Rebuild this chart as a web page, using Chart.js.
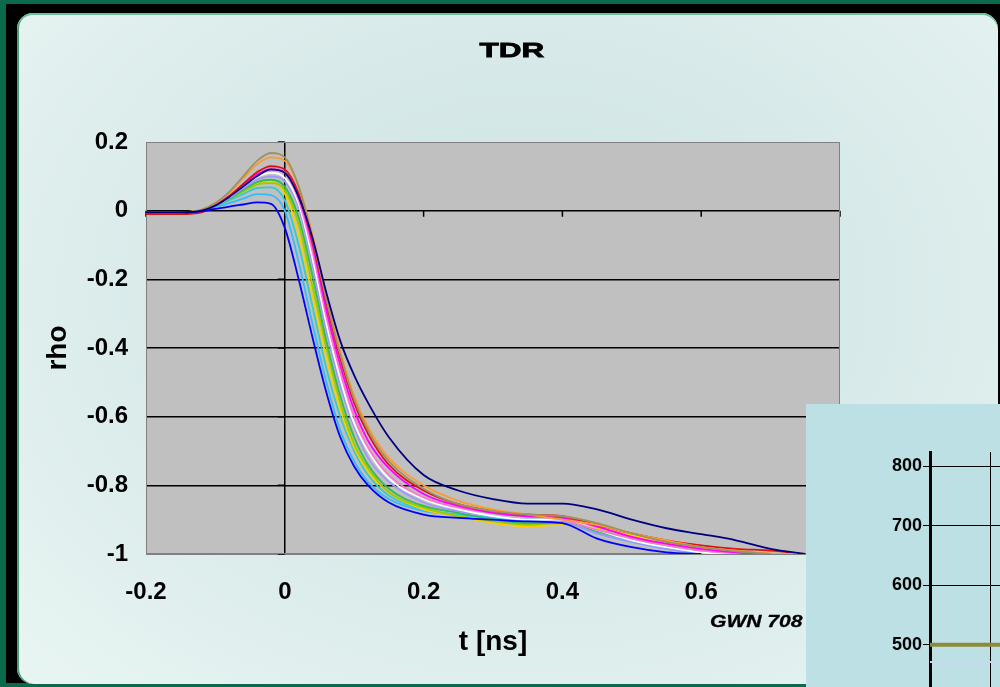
<!DOCTYPE html>
<html>
<head>
<meta charset="utf-8">
<script src="https://cdn.jsdelivr.net/npm/chart.js@4.4.1/dist/chart.umd.min.js"></script>
<style>
  html, body { margin: 0; padding: 0; }
  body { width: 1000px; height: 687px; position: relative; overflow: hidden; background: #0a6b4c; font-family: 'Liberation Sans', Arial, sans-serif; }
  #frame { position: absolute; left: 6px; top: 4px; width: 994px; height: 679px; background: #000; }
  #panel { position: absolute; left: 17px; top: 13px; width: 981px; height: 671px; border-radius: 16px;
           background: radial-gradient(ellipse at 52% 42%, #cfe3e3 0%, #d7e9e9 45%, #e4f2f0 85%, #e8f5f3 100%);
           box-shadow: inset 0 2px 0 #6cbf98, inset 2px 0 0 #4d9e7c; }
  #main { position: absolute; left: 0; top: 0; }
  #title { position: absolute; left: 512px; top: 39px; font-size: 21px; line-height: 21px; font-weight: bold;
           -webkit-text-stroke: 0.8px #000;
           transform: translateX(-50%) scaleX(1.5); color: #000; }
  #note { position: absolute; left: 710px; top: 613px; font-size: 17px; line-height: 17px; font-weight: bold; font-style: italic;
          -webkit-text-stroke: 0.3px #000;
          transform-origin: left top; transform: scaleX(1.24); color: #000; white-space: nowrap; }
  #inset { position: absolute; left: 806px; top: 404px; width: 194px; height: 283px; background: #bce0e3; }
  #ins { position: absolute; left: 0; top: 0; }
</style>
</head>
<body>
<div id="frame"></div>
<div id="panel"></div>
<canvas id="main" width="1000" height="687"></canvas>
<div id="title">TDR</div>
<div id="note">GWN 708</div>
<div id="inset"><canvas id="ins" width="194" height="283"></canvas></div>
<script>
// time axis [ns]
const t = [-0.2, -0.15, -0.12, -0.1, -0.08, -0.06, -0.04, -0.02, 0, 0.02, 0.04, 0.06, 0.08, 0.1,
           0.12, 0.15, 0.2, 0.25, 0.3, 0.35, 0.4, 0.45, 0.5, 0.55, 0.6, 0.65, 0.7, 0.75];

// rho traces
const blue      = [-0.005,-0.005,-0.002,0.005,0.012,0.018,0.024,0.02,-0.05,-0.2,-0.37,-0.53,-0.66,-0.745,-0.8,-0.85,-0.885,-0.895,-0.9,-0.905,-0.91,-0.955,-0.98,-0.995,-1.0,null,null,null];
const skyblue   = [-0.005,-0.005,-0.001,0.01,0.022,0.035,0.048,0.045,0.0,-0.15,-0.33,-0.5,-0.64,-0.73,-0.79,-0.84,-0.875,-0.885,-0.895,-0.9,-0.905,-0.94,-0.965,-0.985,-0.998,-1.0,null,null];
const turquoise = [-0.005,-0.005,0.0,0.013,0.03,0.048,0.066,0.068,0.03,-0.1,-0.28,-0.46,-0.6,-0.7,-0.77,-0.83,-0.87,-0.885,-0.895,-0.9,-0.9,-0.93,-0.955,-0.975,-0.99,-1.0,null,null];
const yellow    = [-0.005,-0.005,0.002,0.016,0.036,0.058,0.078,0.084,0.05,-0.07,-0.25,-0.43,-0.58,-0.69,-0.76,-0.82,-0.87,-0.89,-0.91,-0.92,-0.915,-0.925,-0.945,-0.97,-0.985,-0.997,-1.0,null];
const ltgreen   = [-0.005,-0.005,0.001,0.015,0.034,0.056,0.076,0.08,0.06,-0.04,-0.22,-0.4,-0.56,-0.68,-0.75,-0.82,-0.865,-0.89,-0.905,-0.915,-0.91,-0.93,-0.955,-0.975,-0.99,-1.0,null,null];
const green     = [-0.005,-0.005,0.0,0.014,0.035,0.06,0.083,0.09,0.07,-0.02,-0.19,-0.38,-0.54,-0.66,-0.74,-0.81,-0.86,-0.88,-0.9,-0.91,-0.91,-0.935,-0.96,-0.98,-0.993,-1.0,null,null];
const lavender  = [-0.005,-0.005,0.0,0.014,0.037,0.065,0.09,0.1,0.085,0.01,-0.16,-0.35,-0.51,-0.63,-0.72,-0.79,-0.85,-0.875,-0.89,-0.9,-0.905,-0.94,-0.965,-0.985,-0.997,-1.0,null,null];
const white     = [-0.005,-0.005,0.0,0.015,0.04,0.07,0.098,0.11,0.095,0.02,-0.14,-0.33,-0.49,-0.62,-0.7,-0.78,-0.84,-0.87,-0.89,-0.9,-0.9,-0.93,-0.96,-0.98,-0.995,-1.0,null,null];
const pink      = [-0.005,-0.005,0.0,0.017,0.044,0.078,0.11,0.126,0.112,0.03,-0.12,-0.31,-0.47,-0.6,-0.69,-0.77,-0.835,-0.865,-0.88,-0.89,-0.9,-0.93,-0.955,-0.975,-0.99,-0.998,-1.0,null];
const magenta   = [-0.005,-0.005,0.0,0.016,0.042,0.075,0.105,0.12,0.11,0.04,-0.1,-0.29,-0.45,-0.58,-0.67,-0.75,-0.825,-0.86,-0.88,-0.89,-0.895,-0.92,-0.95,-0.97,-0.985,-0.995,-1.0,null];
const red       = [-0.01,-0.01,-0.005,0.015,0.042,0.078,0.112,0.13,0.12,0.05,-0.09,-0.27,-0.43,-0.56,-0.65,-0.74,-0.815,-0.855,-0.875,-0.885,-0.89,-0.915,-0.94,-0.96,-0.975,-0.985,-0.99,-1.0];
const orange    = [-0.005,-0.005,0.003,0.022,0.052,0.094,0.135,0.155,0.145,0.07,-0.07,-0.25,-0.41,-0.54,-0.63,-0.72,-0.8,-0.845,-0.87,-0.885,-0.9,-0.915,-0.94,-0.96,-0.98,-0.99,-0.998,-1.0];
const olive     = [-0.005,-0.005,0.002,0.022,0.055,0.1,0.145,0.168,0.155,0.07,-0.08,-0.26,-0.42,-0.55,-0.64,-0.73,-0.81,-0.855,-0.875,-0.885,-0.89,-0.91,-0.94,-0.965,-0.98,-0.992,-1.0,null];
const navy      = [-0.005,-0.005,0.0,0.015,0.04,0.07,0.1,0.12,0.11,0.04,-0.08,-0.24,-0.38,-0.48,-0.56,-0.66,-0.77,-0.815,-0.84,-0.853,-0.853,-0.87,-0.9,-0.925,-0.942,-0.96,-0.985,-1.0];

const traces = [navy, blue, olive, orange, red, magenta, pink, white, lavender, green, ltgreen, yellow, turquoise, skyblue];
const traceColors = ['#000080', '#0000ff', '#9c9460', '#ff9933', '#e01010', '#ff00ff', '#ff77cc', '#ffffff',
                     '#9999ff', '#33bb55', '#99cc00', '#ffcc00', '#33cccc', '#33bbff'];

const xTicks = [-0.2, 0, 0.2, 0.4, 0.6, 0.8];
const yTicks = [-1, -0.8, -0.6, -0.4, -0.2, 0, 0.2];

// second (partly hidden) chart in the corner
const insetTicks = [500, 600, 700, 800];
const insetX = [0, 1.15];
const insetOlive = [500, 500];
const insetPale = [471, 471];

const FONT = "'Liberation Sans', Arial, sans-serif";

const plotBack = {
  id: 'plotBack',
  beforeDraw(chart) {
    const a = chart.chartArea, c = chart.ctx;
    c.save();
    c.fillStyle = '#c0c0c0';
    c.fillRect(a.left, a.top, a.right - a.left, a.bottom - a.top);
    c.restore();
  },
  beforeDatasetsDraw(chart) {
    const a = chart.chartArea, c = chart.ctx;
    const xs = chart.scales.x, ys = chart.scales.y;
    const x0 = xs.getPixelForValue(0), y0 = ys.getPixelForValue(0);
    c.save();
    c.strokeStyle = '#000';
    c.lineWidth = 1.5;
    c.beginPath();
    xTicks.forEach(v => { if (v !== 0) { const px = xs.getPixelForValue(v); c.moveTo(px, y0); c.lineTo(px, y0 + 6); } });
    yTicks.forEach(v => { const py = ys.getPixelForValue(v); c.moveTo(x0 - 7, py); c.lineTo(x0, py); });
    c.stroke();
    c.strokeStyle = '#808080';
    c.lineWidth = 1;
    c.strokeRect(a.left + 0.5, a.top + 0.5, a.right - a.left - 1, a.bottom - a.top - 1);
    c.restore();
  }
};

new Chart(document.getElementById('main'), {
  type: 'line',
  data: {
    datasets: traces.map((s, k) => ({
      data: t.map((x, i) => ({ x: x, y: s[i] })).filter(p => p.y !== null),
      borderColor: traceColors[k],
      borderWidth: 1.8,
      pointRadius: 0,
      cubicInterpolationMode: 'monotone',
      fill: false
    }))
  },
  options: {
    responsive: false,
    animation: false,
    layout: { padding: { left: 0, right: 160, top: 142, bottom: 20 } },
    plugins: { legend: { display: false }, tooltip: { enabled: false } },
    scales: {
      x: {
        type: 'linear', min: -0.2, max: 0.8,
        afterBuildTicks: s => { s.ticks = xTicks.map(v => ({ value: v })); },
        afterFit: s => { s.height = 113; },
        ticks: { font: { family: FONT, size: 24, weight: 'bold' }, color: '#000', padding: 24, maxRotation: 0, autoSkip: false,
                 callback: v => String(v) },
        grid: { drawTicks: false, lineWidth: 1.5, color: c => c.tick && c.tick.value === 0 ? '#000' : 'rgba(0,0,0,0)' },
        border: { color: '#808080', width: 1 },
        title: { display: true, text: 't [ns]', color: '#000', font: { family: FONT, size: 28, weight: 'bold' }, padding: { top: 0, bottom: 8 } }
      },
      y: {
        min: -1, max: 0.2,
        afterBuildTicks: s => { s.ticks = yTicks.map(v => ({ value: v })); },
        afterFit: s => { s.width = 146; },
        ticks: { font: { family: FONT, size: 24, weight: 'bold' }, color: '#000', padding: 18, callback: v => String(v) },
        grid: { drawTicks: false, lineWidth: 1.5, color: c => c.tick && c.tick.value > -0.99 && c.tick.value < 0.19 ? '#000' : 'rgba(0,0,0,0)' },
        border: { color: '#808080', width: 1 },
        title: { display: true, text: 'rho', color: '#000', font: { family: FONT, size: 28, weight: 'bold' }, padding: { top: 41, bottom: 0 } }
      }
    }
  },
  plugins: [plotBack]
});

new Chart(document.getElementById('ins'), {
  type: 'line',
  data: {
    datasets: [
      { data: insetX.map((x, i) => ({ x: x, y: insetOlive[i] })), borderColor: '#8c8a3a', borderWidth: 4, pointRadius: 0 },
      { data: insetX.map((x, i) => ({ x: x, y: insetPale[i] })), borderColor: '#c9d8ee', borderWidth: 2, pointRadius: 0 }
    ]
  },
  options: {
    responsive: false,
    animation: false,
    layout: { padding: { left: 0, right: 0, top: 48, bottom: 0 } },
    plugins: { legend: { display: false }, tooltip: { enabled: false } },
    scales: {
      x: {
        type: 'linear', min: 0, max: 1.15,
        afterBuildTicks: s => { s.ticks = [{ value: 1 }]; },
        afterFit: s => { s.height = 0; },
        ticks: { display: false },
        grid: { drawTicks: false, color: '#000', lineWidth: 1 },
        border: { display: false }
      },
      y: {
        min: 429, max: 824,
        afterBuildTicks: s => { s.ticks = insetTicks.map(v => ({ value: v })); },
        afterFit: s => { s.width = 124; s.paddingBottom = 0; s.paddingTop = 0; },
        ticks: { font: { family: FONT, size: 18, weight: 'bold' }, color: '#000', padding: 1 },
        grid: { color: '#000', lineWidth: 1, tickLength: 7 },
        border: { color: '#000', width: 3 }
      }
    }
  }
});
</script>
</body>
</html>
